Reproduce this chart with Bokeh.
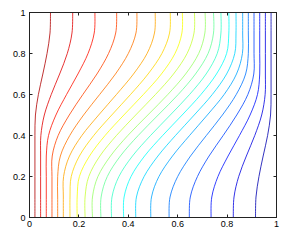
import numpy as np
from bokeh.plotting import figure
from bokeh.models import LinearAxis, FixedTicker, Range1d, CustomJSTickFormatter, ColumnDataSource
from bokeh.embed import file_html
from bokeh.resources import INLINE

# y positions at which each contour line's x position was read
y_samples = [0.0, 0.1, 0.2, 0.3, 0.4, 0.5, 0.6, 0.7, 0.8, 0.9, 1.0]

# x position of each contour line (left to right) at y_samples
contour_01 = [0.022, 0.022, 0.022, 0.022, 0.022, 0.024, 0.036, 0.054, 0.071, 0.083, 0.085]
contour_02 = [0.045, 0.045, 0.045, 0.045, 0.046, 0.060, 0.088, 0.122, 0.153, 0.172, 0.175]
contour_03 = [0.068, 0.068, 0.068, 0.068, 0.077, 0.107, 0.150, 0.196, 0.237, 0.262, 0.265]
contour_04 = [0.091, 0.091, 0.091, 0.092, 0.116, 0.161, 0.216, 0.273, 0.320, 0.349, 0.353]
contour_05 = [0.114, 0.114, 0.114, 0.125, 0.163, 0.219, 0.284, 0.348, 0.400, 0.431, 0.435]
contour_06 = [0.137, 0.137, 0.138, 0.162, 0.212, 0.280, 0.352, 0.421, 0.476, 0.506, 0.509]
contour_07 = [0.164, 0.164, 0.169, 0.202, 0.260, 0.333, 0.409, 0.480, 0.536, 0.567, 0.570]
contour_08 = [0.193, 0.193, 0.202, 0.243, 0.306, 0.382, 0.461, 0.534, 0.589, 0.617, 0.619]
contour_09 = [0.225, 0.225, 0.240, 0.285, 0.352, 0.430, 0.510, 0.583, 0.638, 0.666, 0.668]
contour_10 = [0.255, 0.255, 0.277, 0.328, 0.398, 0.479, 0.560, 0.632, 0.685, 0.710, 0.711]
contour_11 = [0.289, 0.290, 0.315, 0.368, 0.440, 0.521, 0.602, 0.672, 0.723, 0.745, 0.745]
contour_12 = [0.332, 0.334, 0.362, 0.417, 0.490, 0.570, 0.648, 0.715, 0.760, 0.775, 0.775]
contour_13 = [0.381, 0.383, 0.411, 0.466, 0.539, 0.618, 0.694, 0.757, 0.798, 0.807, 0.807]
contour_14 = [0.430, 0.433, 0.464, 0.520, 0.591, 0.667, 0.740, 0.798, 0.831, 0.836, 0.836]
contour_15 = [0.491, 0.494, 0.524, 0.579, 0.648, 0.720, 0.788, 0.838, 0.862, 0.863, 0.863]
contour_16 = [0.565, 0.569, 0.600, 0.652, 0.716, 0.781, 0.837, 0.875, 0.886, 0.886, 0.886]
contour_17 = [0.647, 0.651, 0.680, 0.727, 0.784, 0.839, 0.884, 0.908, 0.909, 0.909, 0.909]
contour_18 = [0.735, 0.738, 0.763, 0.804, 0.850, 0.893, 0.923, 0.932, 0.932, 0.932, 0.932]
contour_19 = [0.825, 0.828, 0.847, 0.878, 0.912, 0.940, 0.954, 0.955, 0.955, 0.955, 0.955]
contour_20 = [0.915, 0.917, 0.929, 0.946, 0.964, 0.976, 0.978, 0.978, 0.978, 0.978, 0.978]

contours = [contour_01, contour_02, contour_03, contour_04, contour_05,
            contour_06, contour_07, contour_08, contour_09, contour_10,
            contour_11, contour_12, contour_13, contour_14, contour_15,
            contour_16, contour_17, contour_18, contour_19, contour_20]

tick_values = [0.0, 0.2, 0.4, 0.6, 0.8, 1.0]
tick_labels = ["0", "0.2", "0.4", "0.6", "0.8", "1"]


def jet(t):
    r = min(max(1.5 - abs(4 * t - 3), 0), 1)
    g = min(max(1.5 - abs(4 * t - 2), 0), 1)
    b = min(max(1.5 - abs(4 * t - 1), 0), 1)
    return "#%02x%02x%02x" % (int(round(r * 255)), int(round(g * 255)), int(round(b * 255)))


n = len(contours)
cols = {k: [] for k in ["x0", "y0", "x1", "y1", "cx0", "cy0", "cx1", "cy1", "color"]}
for i, xs in enumerate(contours):
    color = jet((n - i) / (n + 1))
    ys = y_samples
    m = len(xs)
    for j in range(m - 1):
        jm = max(j - 1, 0)
        jp = min(j + 2, m - 1)
        cols["x0"].append(xs[j]); cols["y0"].append(ys[j])
        cols["x1"].append(xs[j + 1]); cols["y1"].append(ys[j + 1])
        cols["cx0"].append(xs[j] + (xs[j + 1] - xs[jm]) / 6.0)
        cols["cy0"].append(ys[j] + (ys[j + 1] - ys[jm]) / 6.0)
        cols["cx1"].append(xs[j + 1] - (xs[jp] - xs[j]) / 6.0)
        cols["cy1"].append(ys[j + 1] - (ys[jp] - ys[j]) / 6.0)
        cols["color"].append(color)

src = ColumnDataSource(cols)

p = figure(width=283, height=234, x_range=Range1d(0, 1), y_range=Range1d(0, 1),
           output_backend="svg", toolbar_location=None,
           x_axis_location=None, y_axis_location=None,
           min_border_left=29, min_border_right=7, min_border_top=12, min_border_bottom=17)
p.grid.visible = False
p.outline_line_color = "#222222"
p.background_fill_color = "white"
p.border_fill_color = "white"

p.bezier(x0="x0", y0="y0", x1="x1", y1="y1", cx0="cx0", cy0="cy0", cx1="cx1", cy1="cy1",
         line_color="color", line_width=0.8, source=src)

fmt = CustomJSTickFormatter(args=dict(tvals=tick_values, tlabs=tick_labels),
                            code="""
const i = tvals.findIndex(t => Math.abs(t - tick) < 1e-9);
return i >= 0 ? tlabs[i] : '';
""")
blank = CustomJSTickFormatter(code="return '';")


def style(ax, labelled, standoff):
    ax.ticker = FixedTicker(ticks=tick_values)
    ax.formatter = fmt if labelled else blank
    ax.major_tick_in = 3
    ax.major_tick_out = 0
    ax.minor_tick_line_color = None
    ax.axis_line_color = "#222222"
    ax.major_tick_line_color = "#222222"
    ax.major_label_text_font = "Liberation Sans"
    ax.major_label_text_color = "black"
    if labelled:
        ax.major_label_text_font_size = "9px"
        ax.major_label_standoff = standoff
    else:
        ax.major_label_text_font_size = "0px"
        ax.major_label_standoff = 0


xb = LinearAxis(); style(xb, True, 3); p.add_layout(xb, "below")
yl = LinearAxis(); style(yl, True, 4); p.add_layout(yl, "left")
xt = LinearAxis(); style(xt, False, 0); p.add_layout(xt, "above")
yr = LinearAxis(); style(yr, False, 0); p.add_layout(yr, "right")

open("out.html", "w").write(file_html(p, INLINE))
